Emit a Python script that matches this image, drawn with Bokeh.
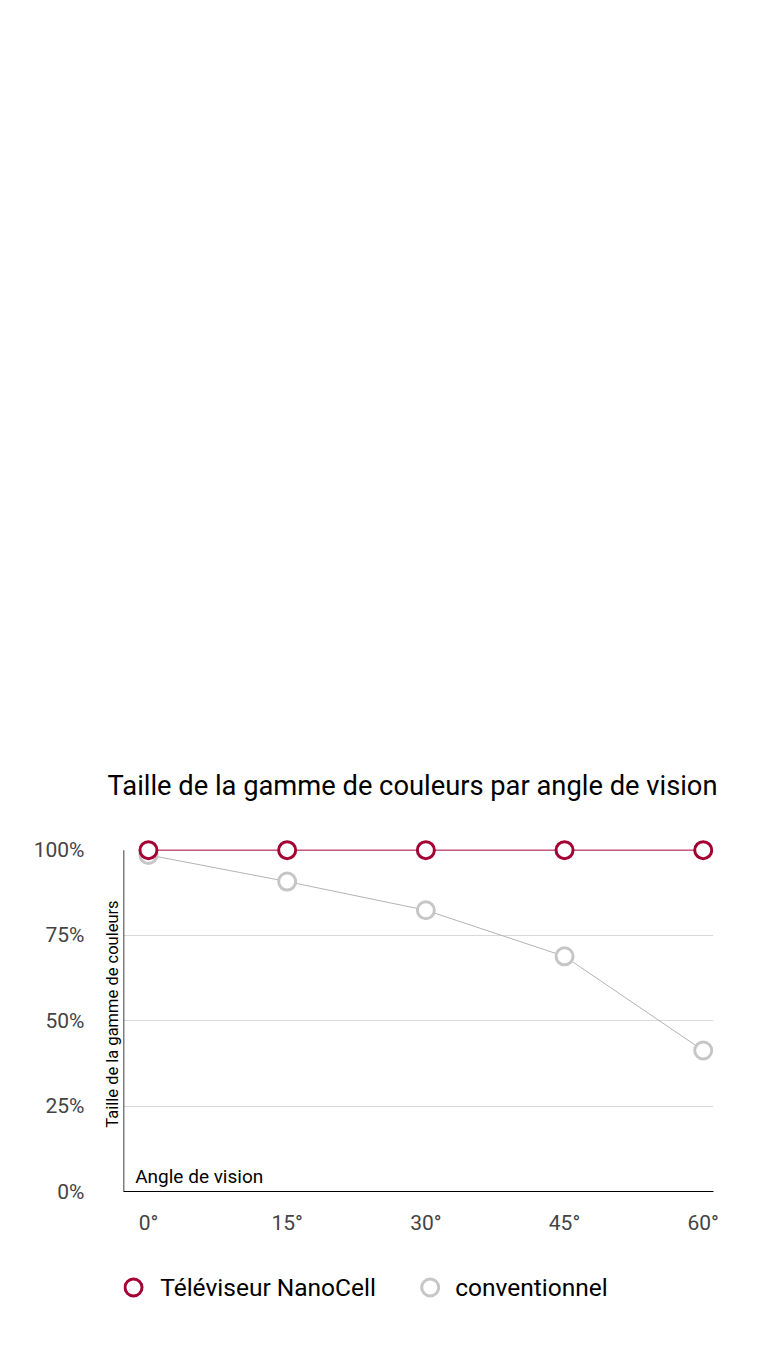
from bokeh.plotting import figure
from bokeh.layouts import column
from bokeh.models import (Range1d, FixedTicker, Label, LinearAxis)
from bokeh.core.properties import value
from bokeh.embed import file_html
from bokeh.resources import INLINE

# ---- data ----
angles = [0, 15, 30, 45, 60]
angle_labels = ["0°", "15°", "30°", "45°", "60°"]
nanocell = [100, 100, 100, 100, 100]
conventional = [98.6, 90.8, 82.4, 68.9, 41.3]
y_ticks = [0, 25, 50, 75, 100]
y_tick_labels = ["0%", "25%", "50%", "75%", "100%"]
grid_ticks = [25, 50, 75]

title_text = "Taille de la gamme de couleurs par angle de vision"
y_label_text = "Taille de la gamme de couleurs"
x_label_text = "Angle de vision"
series_names = ["Téléviseur NanoCell", "conventionnel"]

MAROON = "#a50034"
GREY_MK = "#c6c6c6"
GREY_LN = "#b3b3b3"
TICK_GREY = "#444444"
FONT = "Roboto"
series_colors = [MAROON, GREY_MK]

X0, X1 = -2.70, 61.11
Y0, Y1 = 0, 104

p = figure(width=760, height=1246, output_backend="svg", toolbar_location=None,
           x_range=Range1d(X0, X1), y_range=Range1d(Y0, Y1),
           min_border_left=123, min_border_right=47,
           min_border_top=836, min_border_bottom=55)
p.outline_line_color = None
p.background_fill_color = "white"
p.border_fill_color = "white"

# title
p.title.text = title_text
p.title.text_font = FONT
p.title.text_font_size = "27.3px"
p.title.text_font_style = "normal"
p.title.text_color = "black"
p.title.align = "left"
p.title.offset = -16
p.title.standoff = 69

# x axis
xa = p.xaxis[0]
xa.ticker = FixedTicker(ticks=angles)
xa.major_label_overrides = {a: l for a, l in zip(angles, angle_labels)}
xa.major_tick_line_color = None
xa.major_tick_out = 0
xa.major_tick_in = 0
xa.minor_tick_line_color = None
xa.axis_line_color = "black"
xa.axis_line_width = 1
xa.major_label_standoff = 19
xa.major_label_text_font = FONT
xa.major_label_text_font_size = "21px"
xa.major_label_text_color = TICK_GREY

# y axis nearest the frame: carries only the rotated label
ya = p.yaxis[0]
ya.ticker = FixedTicker(ticks=[])
ya.axis_line_color = None
ya.major_tick_line_color = None
ya.minor_tick_line_color = None
ya.major_tick_out = 0
ya.major_tick_in = 0
ya.axis_label = y_label_text
ya.axis_label_standoff = 2
ya.axis_label_text_font = FONT
ya.axis_label_text_font_size = "16.5px"
ya.axis_label_text_font_style = "normal"
ya.axis_label_text_color = "black"

# outer y axis: percentage tick labels
yt = LinearAxis(ticker=FixedTicker(ticks=y_ticks),
                major_label_overrides={t: l for t, l in zip(y_ticks, y_tick_labels)},
                axis_line_color=None, major_tick_line_color=None,
                minor_tick_line_color=None, major_tick_out=0, major_tick_in=0,
                major_label_standoff=15, major_label_text_font=FONT,
                major_label_text_font_size="21px", major_label_text_color=TICK_GREY)
p.add_layout(yt, "left")

p.xgrid.grid_line_color = None
p.ygrid.ticker = FixedTicker(ticks=grid_ticks)
p.ygrid.grid_line_color = "#d9d9d9"
p.ygrid.grid_line_width = 1

# left axis line from 0 to 100
p.segment(x0=[X0], y0=[y_ticks[0]], x1=[X0], y1=[y_ticks[-1]],
          line_color="black", line_width=1.5)

# series
p.line(angles, conventional, line_color=GREY_LN, line_width=1)
p.scatter(angles, conventional, size=17, marker="circle",
          fill_color="white", line_color=GREY_MK, line_width=3)
p.line(angles, nanocell, line_color=MAROON, line_width=1)
p.scatter(angles, nanocell, size=17, marker="circle",
          fill_color="white", line_color=MAROON, line_width=3)

# in-frame label
p.add_layout(Label(x=-1.435, y=4.4, text=x_label_text, text_align="left",
                   text_baseline="middle", text_font=FONT,
                   text_font_size="19px", text_color="black"))

# ---- legend strip (frame aligned with the chart frame: 590 px wide) ----
LH = 84
pl = figure(width=760, height=LH, output_backend="svg", toolbar_location=None,
            x_range=Range1d(0, 590), y_range=Range1d(0, LH),
            x_axis_type=None, y_axis_type=None,
            min_border_left=123, min_border_right=47, min_border_top=0,
            min_border_bottom=0)
pl.outline_line_color = None
pl.xgrid.grid_line_color = None
pl.ygrid.grid_line_color = None
legend_marker_x = [10, 306.7]
legend_text_x = [36.7, 331.7]
legend_y = [43, 43]
pl.scatter(legend_marker_x, legend_y, size=17, marker="circle",
           fill_color="white", line_color=series_colors, line_width=3)
pl.text(legend_text_x, legend_y, text=series_names, text_align="left",
        text_baseline="middle", text_font=value(FONT), text_font_size="24.5px",
        text_color="black")

open("out.html", "w").write(file_html(column(p, pl, spacing=0), INLINE))
